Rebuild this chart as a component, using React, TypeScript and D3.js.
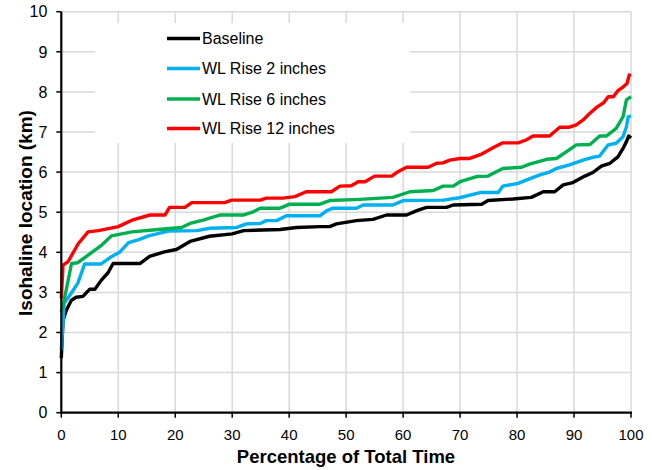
import React from "react";
import * as d3 from "d3";

const xTicks = [0, 10, 20, 30, 40, 50, 60, 70, 80, 90, 100];
const yTicks = [0, 1, 2, 3, 4, 5, 6, 7, 8, 9, 10];

const baselinePct = [0, 0.3, 0.9, 1.75, 2.6, 3.8, 5, 5.9, 7, 8.2, 9.1, 13.8, 15.5, 18.1, 20.2, 22.6, 26, 30, 32, 38.4, 41.3, 45.4, 47.1, 48.3, 51.8, 54.7, 57.1, 60.6, 62.4, 64.1, 67.6, 68.8, 73.8, 74.9, 79.3, 82.5, 84.6, 86.6, 88.1, 89.8, 91.9, 93.3, 94.8, 96.3, 97.7, 98.6, 99.2, 99.6, 100];
const baselineVal = [1.36, 2.3, 2.56, 2.8, 2.88, 2.9, 3.08, 3.08, 3.3, 3.49, 3.72, 3.72, 3.9, 4.01, 4.07, 4.27, 4.4, 4.46, 4.54, 4.57, 4.62, 4.64, 4.64, 4.71, 4.79, 4.82, 4.93, 4.93, 5.04, 5.12, 5.12, 5.18, 5.2, 5.29, 5.33, 5.37, 5.51, 5.51, 5.68, 5.74, 5.9, 5.99, 6.15, 6.22, 6.38, 6.59, 6.76, 6.9, 6.85];

const rise2Pct = [0, 0.5, 1.75, 2.9, 4.1, 7, 8.8, 10.3, 11.8, 13.5, 15.3, 18.8, 23.8, 26.1, 30.8, 32.5, 34.9, 36, 37.8, 39.5, 45.4, 46.6, 47.7, 51.8, 53, 58.2, 60, 67, 69.9, 73.5, 76.7, 77.5, 80.2, 81.6, 84, 85.7, 86.9, 89.2, 91.6, 93.3, 94.5, 96, 97.4, 98.6, 99.2, 99.5, 100];
const rise2Val = [1.56, 2.73, 2.98, 3.23, 3.71, 3.71, 3.89, 4.01, 4.24, 4.31, 4.41, 4.53, 4.54, 4.6, 4.62, 4.71, 4.72, 4.79, 4.79, 4.91, 4.91, 5.04, 5.1, 5.1, 5.18, 5.18, 5.29, 5.3, 5.36, 5.49, 5.49, 5.65, 5.72, 5.8, 5.93, 6.0, 6.09, 6.18, 6.3, 6.37, 6.4, 6.68, 6.72, 6.88, 7.13, 7.38, 7.4];

const rise6Pct = [0, 0.5, 1.8, 2.9, 4.7, 7.1, 8.8, 12.4, 17, 21.1, 22.6, 24.9, 27.8, 31.9, 33.7, 34.9, 38.4, 40.1, 45.4, 47.1, 52.4, 58.2, 61.2, 65.3, 67, 68.8, 70, 72.9, 74.9, 77.5, 80.8, 82.2, 85.2, 86.9, 88.7, 90.4, 92.8, 94.5, 95.7, 97.4, 98.6, 99.2, 100];
const rise6Val = [2.5, 2.81, 3.72, 3.74, 3.93, 4.18, 4.41, 4.51, 4.57, 4.62, 4.72, 4.8, 4.93, 4.93, 5.01, 5.1, 5.1, 5.2, 5.2, 5.29, 5.32, 5.37, 5.51, 5.54, 5.65, 5.65, 5.76, 5.89, 5.9, 6.09, 6.12, 6.2, 6.32, 6.34, 6.51, 6.68, 6.69, 6.9, 6.9, 7.09, 7.38, 7.8, 7.88];

const rise12Pct = [0, 0.3, 1.2, 3, 4.7, 6.5, 10, 12.4, 15.6, 18.2, 19, 21.7, 22.9, 28.7, 29.9, 34.9, 36, 38.9, 41, 43, 47.4, 48.9, 50.9, 52.1, 53.3, 55, 58, 59.1, 60.6, 64.4, 65.9, 67, 68.2, 70, 71.7, 73.8, 76.1, 77.5, 80.2, 81.6, 82.8, 85.7, 87.5, 89.2, 90.4, 91.6, 92.8, 94, 95.2, 96, 96.9, 97.7, 98.6, 99.3, 99.7, 100];
const rise12Val = [2.85, 3.68, 3.77, 4.22, 4.51, 4.54, 4.64, 4.8, 4.93, 4.93, 5.12, 5.12, 5.24, 5.24, 5.3, 5.3, 5.35, 5.35, 5.39, 5.51, 5.51, 5.65, 5.66, 5.76, 5.76, 5.9, 5.9, 6.01, 6.12, 6.12, 6.22, 6.23, 6.3, 6.34, 6.34, 6.45, 6.63, 6.73, 6.73, 6.8, 6.9, 6.9, 7.12, 7.12, 7.18, 7.3, 7.47, 7.62, 7.73, 7.88, 7.88, 8.03, 8.12, 8.21, 8.42, 8.4];

const seriesNames = ["Baseline", "WL Rise 2 inches", "WL Rise 6 inches", "WL Rise 12 inches"];
const seriesColors = ["#000000", "#00B0F0", "#00B050", "#FF0000"];

const W = 652;
const H = 470;
const left = 61.3;
const right = 631;
const top = 11.7;
const bottom = 412.7;
const FONT = "'Liberation Sans', Arial, sans-serif";

export default function App() {
  const x = d3.scaleLinear().domain([0, 100]).range([left, right]);
  const y = d3.scaleLinear().domain([0, 10]).range([bottom, top]);
  const line = d3
    .line<[number, number]>()
    .x((d) => x(d[0]))
    .y((d) => y(d[1]));

  const series = [
    d3.zip(baselinePct, baselineVal),
    d3.zip(rise2Pct, rise2Val),
    d3.zip(rise6Pct, rise6Val),
    d3.zip(rise12Pct, rise12Val),
  ] as [number, number][][];

  const legendY = [38.5, 68.5, 99, 128.5];

  return (
    <svg
      width={W}
      height={H}
      style={{ position: "absolute", left: 0, top: 0, background: "#fff" }}
      fontFamily={FONT}
    >
      <rect x={0} y={0} width={W} height={H} fill="#fff" />
      {yTicks.slice(1).map((t) => (
        <line key={"gy" + t} x1={left} x2={right} y1={y(t)} y2={y(t)} stroke="#d9d9d9" strokeWidth={1.5} />
      ))}
      {xTicks.slice(1).map((t) => (
        <line key={"gx" + t} x1={x(t)} x2={x(t)} y1={top} y2={bottom} stroke="#d9d9d9" strokeWidth={1.5} />
      ))}
      <rect x={95} y={23} width={315} height={120} fill="#fff" />
      {series.map((s, i) => (
        <path key={i} d={line(s) ?? ""} fill="none" stroke={seriesColors[i]} strokeWidth={3.4} strokeLinejoin="round" />
      ))}
      <line x1={left} x2={left} y1={top} y2={bottom + 1} stroke="#000" strokeWidth={2.2} />
      <line x1={left - 1} x2={right + 1} y1={bottom} y2={bottom} stroke="#000" strokeWidth={2.2} />
      {yTicks.map((t) => (
        <g key={"yt" + t}>
          <line x1={left - 5} x2={left} y1={y(t)} y2={y(t)} stroke="#000" strokeWidth={1.5} />
          <text x={left - 14} y={y(t)} dy="0.36em" textAnchor="end" fontSize={16} fill="#000">
            {t}
          </text>
        </g>
      ))}
      {xTicks.map((t) => (
        <g key={"xt" + t}>
          <line x1={x(t)} x2={x(t)} y1={bottom} y2={bottom + 5} stroke="#000" strokeWidth={1.5} />
          <text x={x(t)} y={440} textAnchor="middle" fontSize={15} fill="#000">
            {t}
          </text>
        </g>
      ))}
      <text x={346} y={463} textAnchor="middle" fontSize={18.5} fontWeight="bold" fill="#000">
        Percentage of Total Time
      </text>
      <text
        transform={`translate(32, 213) rotate(-90)`}
        textAnchor="middle"
        fontSize={19}
        fontWeight="bold"
        fill="#000"
      >
        Isohaline location (km)
      </text>
      {seriesNames.map((n, i) => (
        <g key={n}>
          <line x1={167} x2={200} y1={legendY[i]} y2={legendY[i]} stroke={seriesColors[i]} strokeWidth={3.4} />
          <text x={202} y={legendY[i]} dy="0.36em" fontSize={16} fill="#000">
            {n}
          </text>
        </g>
      ))}
    </svg>
  );
}
